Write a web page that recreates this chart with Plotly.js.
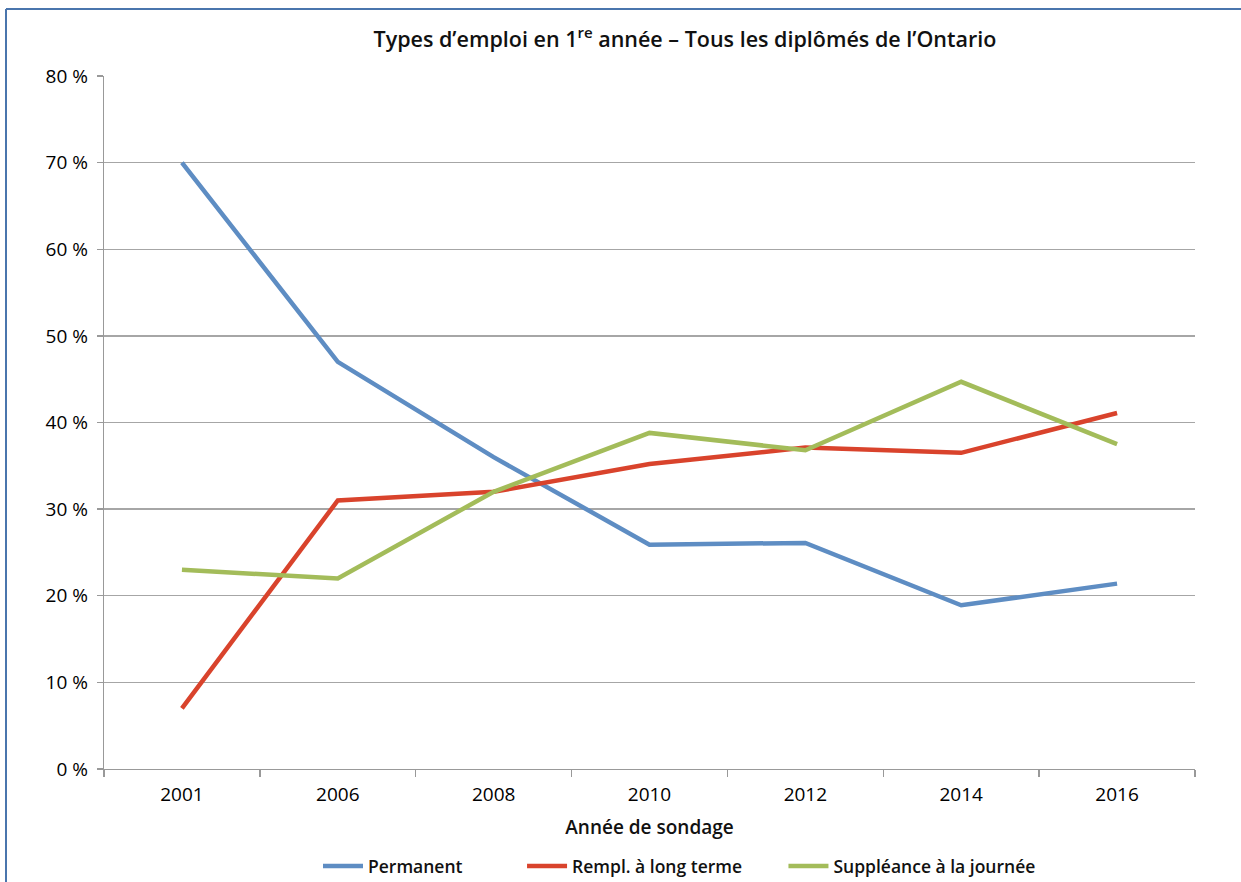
<!DOCTYPE html>
<html>
<head>
<meta charset="utf-8">
<script src="https://cdn.plot.ly/plotly-3.0.1.min.js"></script>
<style>
html,body{margin:0;padding:0;background:#fff;}
#chart{width:1241px;height:882px;}
</style>
</head>
<body>
<div id="chart"></div>
<script>
const years = ["2001","2006","2008","2010","2012","2014","2016"];
const permanent = [70, 47, 36, 25.9, 26.1, 18.9, 21.4];
const remplLongTerme = [7, 31, 32, 35.2, 37.1, 36.5, 41.1];
const suppleanceJournee = [23, 22, 32, 38.8, 36.8, 44.7, 37.5];
const seriesNames = ["Permanent", "Rempl. à long terme", "Suppléance à la journée"];
const legendPad = ["\u00A0".repeat(12), "\u00A0".repeat(8), ""];
const yTicks = [0, 10, 20, 30, 40, 50, 60, 70, 80];

const colors = ["#5e8dc3", "#d9432c", "#a3bc5a"];
const FONT = "Open Sans, Lato, sans-serif";

const traces = [permanent, remplLongTerme, suppleanceJournee].map((vals, i) => ({
  x: years,
  y: vals,
  name: seriesNames[i] + legendPad[i],
  type: "scatter",
  mode: "lines",
  line: {color: colors[i], width: 4.5}
}));

const layout = {
  width: 1241,
  height: 882,
  margin: {l: 104, r: 46, t: 76, b: 113, autoexpand: false},
  paper_bgcolor: "#ffffff",
  plot_bgcolor: "#ffffff",
  font: {family: FONT, color: "#111111", size: 19},
  title: {
    text: "Types d’emploi en 1<sup>re</sup> année – Tous les diplômés de l’Ontario",
    font: {family: FONT, size: 21.5, color: "#111111", weight: 600},
    xref: "paper", x: 0.5325, xanchor: "center",
    yref: "container", y: 0.955, yanchor: "middle"
  },
  xaxis: {
    type: "category",
    categoryorder: "array",
    categoryarray: years,
    range: [-0.5, 6.5],
    tickson: "boundaries",
    ticks: "outside",
    ticklen: 7,
    tickcolor: "#999999",
    tickwidth: 1.3,
    ticklabelstandoff: 8,
    showline: true,
    linecolor: "#999999",
    linewidth: 1.3,
    showgrid: false,
    zeroline: false,
    tickfont: {family: FONT, size: 19, color: "#000000", weight: 500},
    title: {text: "Année de sondage", font: {family: FONT, size: 19, color: "#111111", weight: 600}, standoff: 14}
  },
  yaxis: {
    range: [0, 80],
    tickvals: yTicks,
    ticktext: yTicks.map(v => v + " %"),
    ticks: "outside",
    ticklen: 6,
    tickcolor: "#999999",
    tickwidth: 1.3,
    ticklabelstandoff: 5,
    showline: true,
    linecolor: "#999999",
    linewidth: 1.3,
    showgrid: true,
    gridcolor: "#a6a6a6",
    gridwidth: 1.3,
    zeroline: false,
    tickfont: {family: FONT, size: 19, color: "#000000", weight: 500}
  },
  showlegend: true,
  legend: {
    orientation: "h",
    xref: "paper", x: (318 - 104) / 1091, xanchor: "left",
    yref: "paper", y: (769 - 866) / 693, yanchor: "middle",
    font: {family: FONT, size: 17.5, color: "#111111", weight: 600},
    itemwidth: 40,
    bgcolor: "rgba(0,0,0,0)"
  },
  shapes: [
    {type: "line", xref: "paper", yref: "paper", x0: (6-104)/1091, x1: (1241-104)/1091, y0: (769-9)/693, y1: (769-9)/693, line: {color: "#4a75ad", width: 2}},
    {type: "line", xref: "paper", yref: "paper", x0: (6-104)/1091, x1: (6-104)/1091, y0: (769-9)/693, y1: (769-882)/693, line: {color: "#4a75ad", width: 2}}
  ]
};

Plotly.newPlot("chart", traces, layout, {displayModeBar: false, staticPlot: true});
</script>
</body>
</html>
